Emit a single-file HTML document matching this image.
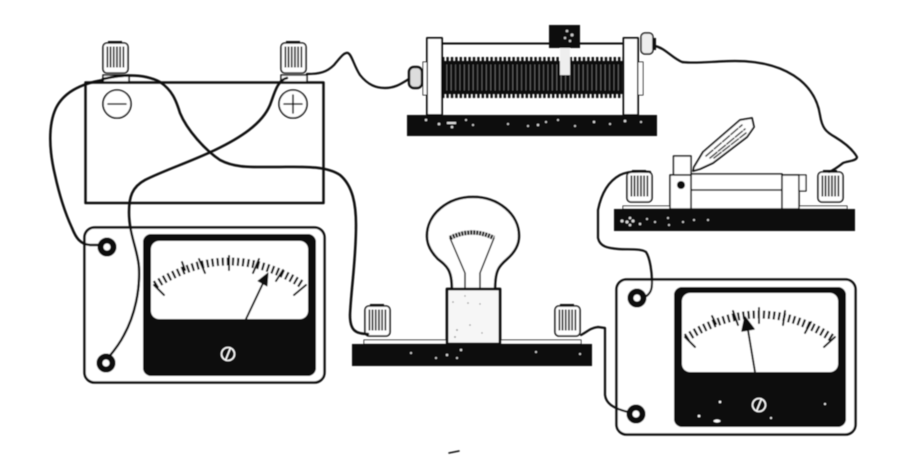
<!DOCTYPE html>
<html><head><meta charset="utf-8"><title>Circuit diagram</title>
<style>html,body{margin:0;padding:0;background:#fff}svg{display:block}</style></head>
<body>
<svg xmlns="http://www.w3.org/2000/svg" width="916" height="464" viewBox="0 0 916 464">
<defs>
<filter id="b" x="-2%" y="-2%" width="104%" height="104%"><feGaussianBlur stdDeviation="0.45"/></filter>
<g id="term">
  <rect x="6" y="0" width="14" height="4" fill="#111"/>
  <rect x="1" y="2" width="25" height="30" rx="4" fill="#fff" stroke="#111" stroke-width="1.6"/>
  <line x1="4.5" y1="16" x2="23" y2="16" stroke="#1a1a1a" stroke-width="21" stroke-dasharray="1.7 1.5" style="stroke-linecap:butt"/>
</g>
<g id="post">
  <circle r="6.500" fill="#fff" stroke="#0c0c0c" stroke-width="6"/>
</g>
</defs>
<rect width="916" height="464" fill="#fff"/>
<g filter="url(#b)" fill="none" stroke="#111" stroke-linecap="round" stroke-linejoin="round">

<!-- battery -->
<rect x="85.500" y="82.500" width="238" height="120.500" stroke-width="2.500"/>
<use href="#term" x="102" y="41" stroke="none"/>
<use href="#term" x="280" y="41" stroke="none"/>
<rect x="103" y="75" width="26" height="7" fill="#fff" stroke-width="1.500"/>
<rect x="281" y="75" width="26" height="7" fill="#fff" stroke-width="1.500"/>
<circle cx="117" cy="104" r="14" fill="#fff" stroke-width="1.600"/>
<path d="M108 104H126" stroke-width="1.600"/>
<circle cx="293" cy="104" r="14" fill="#fff" stroke-width="1.600"/>
<path d="M284 104H302M293 95V113" stroke-width="1.600"/>

<!-- left meter -->
<rect x="84.500" y="227.500" width="240" height="155" rx="10" fill="#fff" stroke-width="2.500"/>
<rect x="143" y="234" width="173" height="142" rx="8" fill="#0a0a0a" stroke="none"/>
<rect x="151" y="241" width="157" height="78" rx="8" fill="#fff" stroke="none"/>
<path d="M155 285Q229 238 303 285" stroke-width="8" stroke-dasharray="2.200 2.900" style="stroke-linecap:butt"/>
<path d="M154 285L164 295M182 262L185 270M199 259L205 273M229 256V270M259 259L253 273M283 270L276 281M306 285L294 295" stroke-width="2"/>
<path d="M246 319L265 279" stroke-width="2"/>
<path d="M268 273L258 281L267 286Z" fill="#111" stroke-width="1"/>
<use href="#post" x="107" y="247"/>
<use href="#post" x="106" y="363"/>
<circle cx="228" cy="354" r="6.500" stroke="#fff" stroke-width="1.600"/>
<path d="M226 359L230 349" stroke="#fff" stroke-width="1.600"/>

<!-- right meter -->
<rect x="616.500" y="279.500" width="239" height="155" rx="10" fill="#fff" stroke-width="2.500"/>
<rect x="674" y="287" width="172" height="140" rx="8" fill="#0a0a0a" stroke="none"/>
<rect x="682" y="293" width="156" height="79" rx="8" fill="#fff" stroke="none"/>
<path d="M686 338Q759 291 832 338" stroke-width="8" stroke-dasharray="2.200 2.900" style="stroke-linecap:butt"/>
<path d="M685 337L695 347M712 316L716 324M733 311L738 325M759 308V323M785 311L783 325M811 322L805 333M835 337L824 347" stroke-width="2"/>
<path d="M755 372L748 330" stroke-width="2"/>
<path d="M745 317L742 331L754 329Z" fill="#111" stroke-width="1.500"/>
<use href="#post" x="637" y="298"/>
<use href="#post" x="636" y="414"/>
<circle cx="759" cy="405" r="6.500" stroke="#fff" stroke-width="1.600"/>
<path d="M757 410L761 400" stroke="#fff" stroke-width="1.600"/>
<g fill="#fff" stroke="none"><ellipse cx="717" cy="421" rx="3.500" ry="1.500"/><circle cx="720" cy="402" r="1.200"/><circle cx="699" cy="416" r="1.300"/><circle cx="771" cy="418" r="1"/><circle cx="825" cy="404" r="1"/></g>

<!-- rheostat -->
<path d="M442 43.500H623" stroke-width="2"/>
<rect x="442" y="61" width="182" height="33" fill="#111" stroke="none"/>
<path d="M442 77.500H624" stroke="#111" stroke-width="41" stroke-dasharray="2.400 2" style="stroke-linecap:butt"/>
<path d="M442 77.500H624" stroke="#777" stroke-width="26" stroke-dasharray="0.700 3.700" style="stroke-linecap:butt"/>
<rect x="427" y="38" width="15" height="77" fill="#fff" stroke-width="2"/>
<rect x="623.500" y="38" width="14.500" height="77" fill="#fff" stroke-width="2"/>
<rect x="423" y="62" width="4" height="33" fill="#fff" stroke-width="1"/>
<rect x="638" y="62" width="5" height="33" fill="#fff" stroke-width="1"/>
<rect x="409" y="67" width="13" height="21" rx="5" fill="#ddd" stroke-width="2.500"/>
<rect x="641" y="33" width="12" height="21" rx="4" fill="#eee" stroke-width="1.500"/>
<rect x="653" y="38" width="3" height="12" fill="#111" stroke="none"/>
<rect x="549" y="25" width="31" height="23" fill="#111" stroke="none"/>
<g fill="#ccc" stroke="none"><circle cx="567" cy="31" r="1.300"/><circle cx="572" cy="35" r="1.500"/><circle cx="565" cy="38" r="1.200"/><circle cx="570" cy="41" r="1.200"/></g>
<rect x="560" y="48" width="10" height="27" fill="#eee" stroke="none"/>
<rect x="407" y="115" width="250" height="21" fill="#0c0c0c" stroke="none"/>
<g fill="#ddd" stroke="none">
<circle cx="426" cy="120" r="1.200"/><circle cx="439" cy="124" r="1.300"/><rect x="447" y="122" width="9" height="2"/><circle cx="452" cy="127" r="1.300"/><circle cx="466" cy="120" r="1"/><circle cx="473" cy="125" r="1"/><circle cx="508" cy="124" r="1"/><circle cx="528" cy="126" r="1"/><circle cx="538" cy="125" r="1.200"/><circle cx="546" cy="122" r="1"/><circle cx="558" cy="120" r="1"/><circle cx="575" cy="126" r="1"/><circle cx="594" cy="122" r="1.200"/><circle cx="610" cy="124" r="1"/><circle cx="625" cy="121" r="1.300"/><circle cx="641" cy="122" r="1"/>
</g>

<!-- switch -->
<path d="M693 171L694 167L703 152L740 120L752 118L754 127L747 137L713 163L700 169Z" fill="#fff" stroke-width="1.800"/>
<path d="M706 156L742 125M710 158L745 129M714 158L746 133" stroke="#333" stroke-width="1.500" stroke-dasharray="9 2"/>
<rect x="623" y="206" width="224" height="3" fill="#fff" stroke-width="1"/>
<rect x="691" y="174" width="91" height="35" fill="#fff" stroke-width="1.500"/>
<path d="M691 190H782" stroke-width="1.500"/>
<rect x="782" y="175" width="17" height="34" fill="#fff" stroke-width="1.500"/>
<rect x="799" y="175" width="7" height="16" fill="#fff" stroke-width="1.300"/>
<rect x="673.500" y="156" width="17.500" height="19" fill="#fff" stroke-width="1.500"/>
<rect x="670" y="175" width="21" height="34" fill="#fff" stroke-width="1.500"/>
<circle cx="681" cy="185" r="4" fill="#111" stroke="none"/>
<use href="#term" x="626" y="170" stroke="none"/>
<use href="#term" x="817" y="170" stroke="none"/>
<rect x="614" y="209" width="241" height="22" fill="#0c0c0c" stroke="none"/>
<g fill="#ddd" stroke="none">
<circle cx="622" cy="221" r="1.500"/><circle cx="630" cy="218" r="1.300"/><circle cx="627" cy="222" r="1.500"/><circle cx="633" cy="221" r="1.500"/><circle cx="630" cy="225" r="1.300"/><circle cx="640" cy="224" r="1.200"/><circle cx="647" cy="219" r="1"/><circle cx="655" cy="222" r="1"/><circle cx="668" cy="218" r="1"/><circle cx="669" cy="225" r="1"/><circle cx="683" cy="222" r="1"/><circle cx="694" cy="220" r="1"/><circle cx="708" cy="220" r="1"/>
</g>

<!-- lamp -->
<path d="M452 289C452 270 447 266 438 259C431 252 427 245 427 236C427 214 448 197 473 197C498 197 519 214 519 236C519 245 515 252 507 259C499 266 495 270 495 289" fill="#fff" stroke-width="2.500"/>
<path d="M450 238Q472 227 494 238" stroke-width="4.500" stroke-dasharray="2.200 0.800" style="stroke-linecap:butt"/>
<path d="M450 238L465 273V289M494 238L480 273V289" stroke-width="1.500"/>
<rect x="364" y="340" width="217" height="4" fill="#fff" stroke-width="1"/>
<rect x="447" y="289" width="53" height="55" fill="#f6f6f6" stroke-width="2.800"/>
<g fill="#888" stroke="none"><circle cx="453" cy="302" r=".8"/><circle cx="465" cy="296" r=".7"/><circle cx="468" cy="303" r=".8"/><circle cx="480" cy="304" r=".7"/><circle cx="457" cy="330" r=".9"/><circle cx="470" cy="325" r=".8"/><circle cx="455" cy="337" r=".9"/><circle cx="482" cy="333" r=".7"/></g>
<use href="#term" x="364" y="304" stroke="none"/>
<use href="#term" x="554" y="304" stroke="none"/>
<rect x="352" y="344" width="240" height="22" fill="#0c0c0c" stroke="none"/>
<g fill="#ddd" stroke="none"><circle cx="411" cy="353" r="1"/><circle cx="447" cy="355" r="1.200"/><circle cx="461" cy="350" r="1.200"/><circle cx="457" cy="358" r="1"/><circle cx="436" cy="358" r="1"/><circle cx="536" cy="352" r="1"/><circle cx="580" cy="354" r="1"/></g>

<!-- wires -->
<g stroke="#0c0c0c">
<path d="M103 80C85 83 65 90 56 108C48 125 49 150 55 175C60 198 66 215 72 228C76 238 80 244 90 245H101" stroke-width="2.500"/>
<path d="M103 79C125 74 145 74 160 82C172 90 176 100 180 113C187 130 205 150 220 160C235 168 250 167 275 167C300 167 325 165 340 175C353 186 356 205 356 225C356 260 351 290 350 315C350 330 355 334 368 334" stroke-width="2.500"/>
<path d="M287 78C277 80 274 95 270 105C262 124 240 138 215 150C190 162 165 170 145 180C132 187 129 197 129 212C129 235 138 250 139 268C140 290 135 315 124 335C119 345 113 352 108 358" stroke-width="2.500"/>
<path d="M307 74C320 74 327 72 334 65C340 58 344 52 348 53C352 55 354 66 360 75C368 85 376 88 385 88C396 88 402 83 409 79" stroke-width="2.200"/>
<path d="M655 46C665 48 672 58 682 62C695 64 715 61 735 61C765 61 785 68 800 80C812 90 818 102 820 115C822 128 826 132 835 137C845 143 853 150 857 157C857 161 848 161 843 163C838 167 834 170 829 172" stroke-width="2.200"/>
<path d="M650 172C640 171 628 171 620 175C607 182 601 195 598 210V238C600 247 608 248 618 249C628 250 640 248 646 252C650 258 652 272 652 283C652 290 650 294 645 297" stroke-width="2.200"/>
<path d="M581 335C587 332 590 328 598 327L605 328V395C606 403 612 408 628 412" stroke-width="2.200"/>
</g>

<path d="M449 453L459 451" stroke-width="1.500"/>
</g>
</svg>
</body></html>
